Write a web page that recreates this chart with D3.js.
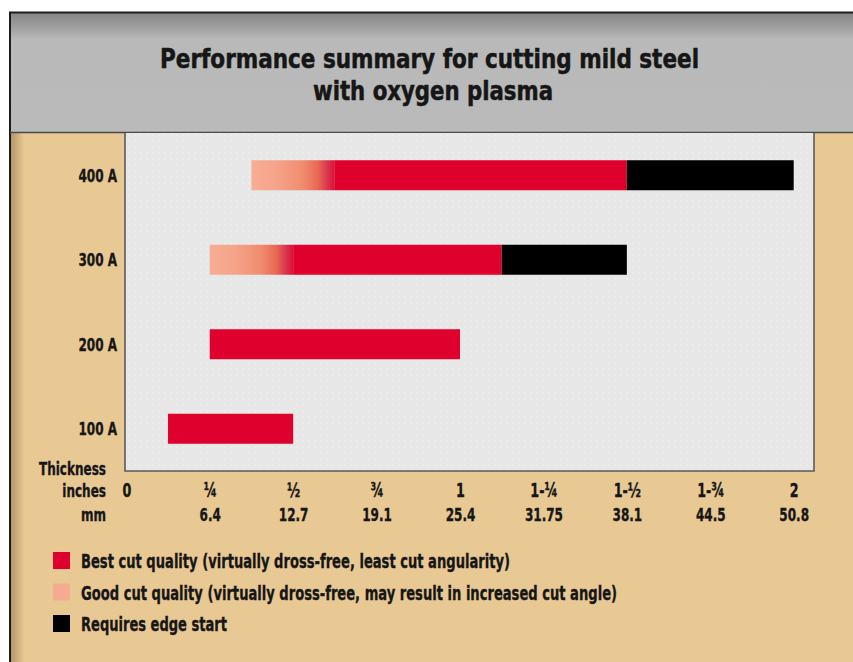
<!DOCTYPE html>
<html>
<head>
<meta charset="utf-8">
<script src="https://cdn.jsdelivr.net/npm/d3@7/dist/d3.min.js"></script>
<style>
  html, body { margin: 0; padding: 0; background: #fff; }
  svg { display: block; }
  text { font-family: "Liberation Sans Narrow", "DejaVu Sans Condensed", "Liberation Sans", sans-serif; font-weight: bold; fill: #161616; stroke: #161616; stroke-width: 0.35px; }
</style>
</head>
<body>
<script>
// ---- data ----
const currents   = ["400 A", "300 A", "200 A", "100 A"];
const goodStart  = [0.375, 0.25, null, null];   // start of "good cut quality" (inches)
const bestStart  = [0.625, 0.5, 0.25, 0.125];   // start of "best cut quality"
const bestEnd    = [1.5, 1.125, 1.0, 0.5];      // end of "best cut quality"
const edgeEnd    = [2.0, 1.5, null, null];      // end of "requires edge start"
const tickValues = [0, 0.25, 0.5, 0.75, 1, 1.25, 1.5, 1.75, 2];
const inchLabels = ["0", "¼", "½", "¾", "1", "1-¼", "1-½", "1-¾", "2"];
const mmLabels   = ["", "6.4", "12.7", "19.1", "25.4", "31.75", "38.1", "44.5", "50.8"];
const titleLines = ["Performance summary for cutting mild steel", "with oxygen plasma"];
const axisLabels = ["Thickness", "inches", "mm"];
const legendLabels = [
  "Best cut quality (virtually dross-free, least cut angularity)",
  "Good cut quality (virtually dross-free, may result in increased cut angle)",
  "Requires edge start"
];

const W = 853, H = 662;
const RED = "#e0002e", PINK = "#f6aa92", BLACK = "#000000";
const panel = { x: 125, y: 133, w: 689, h: 338 };

const svg = d3.select("body").append("svg").attr("width", W).attr("height", H);
const defs = svg.append("defs");

// gradients
const hg = defs.append("linearGradient").attr("id", "hdr").attr("x1", 0).attr("y1", 0).attr("x2", 0).attr("y2", 1);
[[0, "#858585"], [0.15, "#a6a6a6"], [0.22, "#b9b9b9"], [1, "#bababa"]].forEach(s => hg.append("stop").attr("offset", s[0]).attr("stop-color", s[1]));
const sg = defs.append("linearGradient").attr("id", "shadow").attr("x1", 0).attr("y1", 0).attr("x2", 1).attr("y2", 0);
[[0, "rgba(110,80,40,0.45)"], [1, "rgba(110,80,40,0)"]].forEach(s => sg.append("stop").attr("offset", s[0]).attr("stop-color", s[1]));
const gg = defs.append("linearGradient").attr("id", "good").attr("x1", 0).attr("y1", 0).attr("x2", 1).attr("y2", 0);
[[0, "#f7ad94"], [0.3, "#f5a48a"], [0.62, "#f08c6e"], [0.8, "#e86852"], [0.9, "#da3a50"], [1, "#dc1038"]].forEach(s => gg.append("stop").attr("offset", s[0]).attr("stop-color", s[1]));
const dots = defs.append("pattern").attr("id", "dots").attr("width", 6).attr("height", 6).attr("patternUnits", "userSpaceOnUse");
dots.append("rect").attr("width", 6).attr("height", 6).attr("fill", "#e7e7e7");
dots.append("circle").attr("cx", 3).attr("cy", 3).attr("r", 0.8).attr("fill", "#f3f3f3");

// background & frame
svg.append("rect").attr("width", W).attr("height", H).attr("fill", "#ffffff");
svg.append("rect").attr("x", 10).attr("y", 12).attr("width", W - 10).attr("height", H - 12).attr("fill", "#e8c893");
svg.append("rect").attr("x", 10).attr("y", 133).attr("width", 14).attr("height", H - 133).attr("fill", "url(#shadow)");
svg.append("rect").attr("x", 10).attr("y", 13).attr("width", W - 10).attr("height", 119).attr("fill", "url(#hdr)");
svg.append("line").attr("x1", 9).attr("x2", W).attr("y1", 12.5).attr("y2", 12.5).attr("stroke", "#1c1c1c").attr("stroke-width", 2);
svg.append("line").attr("x1", 10).attr("x2", 10).attr("y1", 12).attr("y2", H).attr("stroke", "#1c1c1c").attr("stroke-width", 2);
svg.append("line").attr("x1", 10).attr("x2", W).attr("y1", 132.5).attr("y2", 132.5).attr("stroke", "#4a4a4a").attr("stroke-width", 1.5);

// title
svg.selectAll(".title").data(titleLines).join("text")
  .attr("class", "title")
  .attr("x", (d, i) => i === 0 ? 429.5 : 433)
  .attr("y", (d, i) => i === 0 ? 68 : 100)
  .attr("text-anchor", "middle")
  .attr("font-size", 26)
  .style("stroke-width", "0.5px")
  .attr("textLength", (d, i) => i === 0 ? 539 : 240)
  .attr("lengthAdjust", "spacingAndGlyphs")
  .text(d => d);

// panel
svg.append("rect").attr("x", panel.x).attr("y", panel.y).attr("width", panel.w).attr("height", panel.h).attr("fill", "url(#dots)");
svg.append("path")
  .attr("d", `M${panel.x},${panel.y} V${panel.y + panel.h} H${panel.x + panel.w} V${panel.y}`)
  .attr("fill", "none").attr("stroke", "#5a5a5a").attr("stroke-width", 1.6);

// scales
const x = d3.scaleLinear().domain([0, 2]).range([126.3, 793.7]);
const y = d3.scaleBand().domain(currents).range([panel.y, panel.y + panel.h]).paddingInner(0.645).paddingOuter(0.3225);

// bars
const rows = currents.map((c, i) => ({ c, g: goodStart[i], b0: bestStart[i], b1: bestEnd[i], e: edgeEnd[i] }));
const barG = svg.append("g");
barG.selectAll(".good").data(rows.filter(r => r.g !== null)).join("rect")
  .attr("x", d => x(d.g)).attr("width", d => x(d.b0) - x(d.g))
  .attr("y", d => y(d.c)).attr("height", y.bandwidth()).attr("fill", "url(#good)");
barG.selectAll(".best").data(rows).join("rect")
  .attr("x", d => x(d.b0)).attr("width", d => x(d.b1) - x(d.b0))
  .attr("y", d => y(d.c)).attr("height", y.bandwidth()).attr("fill", RED);
barG.selectAll(".edge").data(rows.filter(r => r.e !== null)).join("rect")
  .attr("x", d => x(d.b1)).attr("width", d => x(d.e) - x(d.b1))
  .attr("y", d => y(d.c)).attr("height", y.bandwidth()).attr("fill", BLACK);

// y axis
const yAx = svg.append("g").attr("transform", "translate(117,0)")
  .call(d3.axisLeft(y).tickSize(0).tickPadding(0));
yAx.select(".domain").remove();
yAx.selectAll("text").attr("x", 0).attr("dy", "0.37em").attr("font-size", 18).attr("fill", "#161616");

// x axes (inches & mm rows)
const xIn = svg.append("g").attr("transform", "translate(0,497)")
  .call(d3.axisBottom(x).tickValues(tickValues).tickSize(0).tickPadding(0).tickFormat((d, i) => inchLabels[i]));
const xMm = svg.append("g").attr("transform", "translate(0,521)")
  .call(d3.axisBottom(x).tickValues(tickValues).tickSize(0).tickPadding(0).tickFormat((d, i) => mmLabels[i]));
[xIn, xMm].forEach(g => {
  g.select(".domain").remove();
  g.selectAll("text").attr("y", 0).attr("dy", null).attr("font-size", 18).attr("fill", "#161616");
});
xIn.selectAll("text").attr("font-size", 19);

// axis row labels
svg.selectAll(".alab").data(axisLabels).join("text")
  .attr("class", "alab")
  .attr("x", 106).attr("y", (d, i) => [475, 497, 521][i])
  .attr("text-anchor", "end").attr("font-size", 18).text(d => d);

// condense axis text to match the narrow face
const thick = svg.select(".alab").node();
const k = Math.min(1, 67 / thick.getComputedTextLength());
svg.selectAll(".alab, .tick text").each(function () {
  const t = d3.select(this);
  const len = this.getComputedTextLength();
  if (len > 0) t.attr("textLength", len * k).attr("lengthAdjust", "spacingAndGlyphs");
});

// legend
const legColors = [RED, PINK, BLACK];
const legY = [552, 583.5, 615];
const legW = [429, 536, 146];
const leg = svg.append("g");
leg.selectAll("rect").data(legendLabels).join("rect")
  .attr("x", 53).attr("y", (d, i) => legY[i]).attr("width", 17).attr("height", 17)
  .attr("fill", (d, i) => legColors[i]);
leg.selectAll("text").data(legendLabels).join("text")
  .attr("x", 81).attr("y", (d, i) => legY[i] + 16)
  .attr("font-size", 20)
  .attr("textLength", (d, i) => legW[i]).attr("lengthAdjust", "spacingAndGlyphs")
  .text(d => d);
</script>
</body>
</html>
